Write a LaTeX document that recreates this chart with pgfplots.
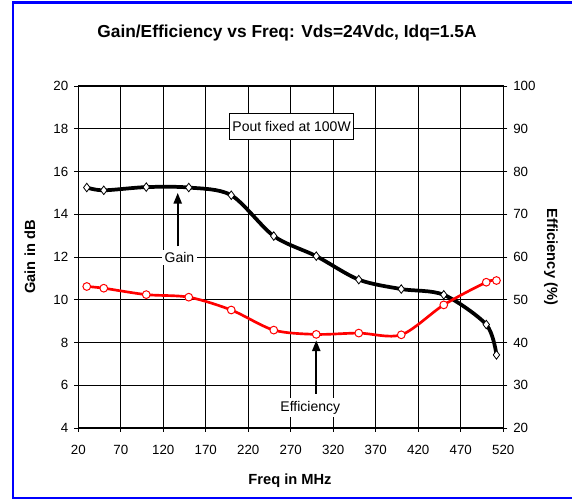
\documentclass[border=0pt]{standalone}
\usepackage{fontspec}
\setmainfont{Liberation Sans}
\usepackage{pgfplots}
\pgfplotsset{compat=1.18}
\usetikzlibrary{arrows.meta}

\pgfplotstableread{
f g
30 15.25
50 15.12
100 15.27
150 15.25
200 14.89
250 12.98
300 12.04
350 10.94
400 10.50
450 10.23
500 8.84
512 7.42
}\gaintable

\pgfplotstableread{
f e
30 53.1
50 52.7
100 51.2
150 50.6
200 47.6
250 42.9
300 41.9
350 42.2
400 41.8
450 48.8
500 54.1
512 54.5
}\efftable

\begin{document}
\begin{tikzpicture}[x=0.75pt,y=0.75pt]
\useasboundingbox (0,0) rectangle (572,499);
\pgfplotsset{
  common/.style={
    at={(58.7pt,53.25pt)}, anchor=south west,
    scale only axis, width=318.75pt, height=256.5pt,
    xmin=20, xmax=520,
    tick align=outside,
    major tick length=3pt,
    tick style={black, line width=0.6pt},
    axis line style={black, line width=0.9pt},
    tick label style={font=\fontsize{10}{12}\selectfont},
    /pgf/number format/assume math mode=true,
    clip=false,
  }
}
\begin{axis}[common,
  ymin=4, ymax=20,
  ytick={4,6,...,20},
  xtick={20,70,...,520},
  xtick pos=lower, ytick pos=left,
  xticklabel style={yshift=-6pt},
  yticklabel style={xshift=-1pt},
  grid=major,
  major grid style={black, line width=0.5pt},
]
\addplot[black, line width=2.8pt, smooth, tension=0.5,
  mark=diamond*, mark size=3.2pt,
  mark options={fill=white, draw=black, line width=0.6pt}]
  table[x=f, y=g] {\gaintable};
\node[fill=white, inner sep=2pt, font=\fontsize{10.5}{12}\selectfont] at (axis cs:139,11.98) {Gain};
\draw[-{Triangle[length=8pt,width=6pt]}, line width=1.5pt] (axis cs:137,12.5) -- (axis cs:137,15.0);
\node[fill=white, inner sep=2pt, font=\fontsize{10.5}{12}\selectfont] at (axis cs:293,4.95) {Efficiency};
\draw[-{Triangle[length=8pt,width=6pt]}, line width=1.5pt] (axis cs:300,5.6) -- (axis cs:300,8.1);
\node[draw=black, fill=white, line width=0.6pt, inner xsep=2pt, minimum height=19.5pt, font=\fontsize{10.5}{12}\selectfont] at (axis cs:271,18.12) {Pout fixed at 100W};
\end{axis}
\begin{axis}[common,
  ymin=20, ymax=100,
  ytick={20,30,...,100},
  axis x line=none,
  axis y line*=right,
  ytick pos=right,
  yticklabel style={xshift=1pt},
]
\addplot[red, line width=2pt, smooth, tension=0.5,
  mark=*, mark size=2.9pt,
  mark options={fill=white, draw=red, line width=0.75pt}]
  table[x=f, y=e] {\efftable};
\end{axis}
\node[font=\bfseries\fontsize{13}{15}\selectfont] at (287,466) {Gain/Efficiency vs Freq: Vds=24Vdc, Idq=1.5A};
\node[font=\bfseries\fontsize{11}{13}\selectfont, rotate=90] at (30,242) {Gain in dB};
\node[font=\bfseries\fontsize{11}{13}\selectfont, rotate=-90] at (551,242) {Efficiency (\%)};
\node[font=\bfseries\fontsize{11}{13}\selectfont] at (290,18) {Freq in MHz};
\draw[blue, line width=1.9pt] (580,496.5) -- (12.9,496.5) -- (12.9,1.2) -- (580,1.2);
\end{tikzpicture}
\end{document}
